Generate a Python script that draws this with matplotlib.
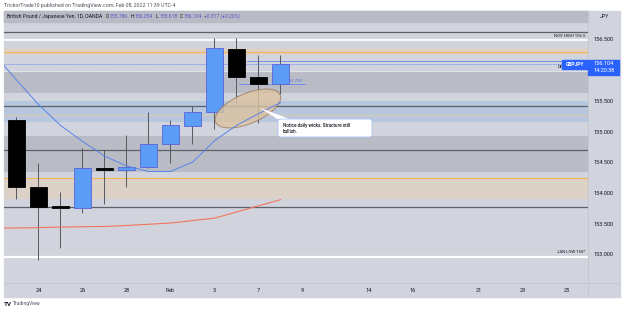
import numpy as np
import pandas as pd
import matplotlib
matplotlib.use('Agg')
import matplotlib.pyplot as plt
from matplotlib.patches import Rectangle, Polygon, FancyBboxPatch

plt.rcParams['font.family'] = ['Roboto', 'DejaVu Sans']

# daily GBPJPY candles, Jan 21 .. Feb 8 2022
candle_dates = ['2022-01-21', '2022-01-24', '2022-01-25', '2022-01-26', '2022-01-27',
                '2022-01-28', '2022-01-31', '2022-02-01', '2022-02-02', '2022-02-03',
                '2022-02-04', '2022-02-07', '2022-02-08']
opens = [155.20, 154.10, 153.79, 153.77, 154.42, 154.38, 154.44, 154.80, 155.10, 155.33, 156.36, 155.90, 155.786]
highs = [155.24, 154.49, 154.03, 154.74, 154.71, 154.96, 155.33, 155.20, 155.43, 156.53, 156.53, 156.25, 156.254]
lows = [153.91, 152.92, 153.12, 153.68, 153.83, 154.10, 154.41, 154.50, 154.81, 155.05, 155.47, 155.15, 155.618]
closes = [154.10, 153.78, 153.77, 154.42, 154.38, 154.44, 154.80, 155.11, 155.33, 156.37, 155.90, 155.786, 156.104]

# moving averages (first value is Jan 20, off the left edge)
ma_dates = ['2022-01-20'] + candle_dates
ma_fast = [156.26, 155.85, 155.45, 155.11, 154.85, 154.61, 154.45, 154.36, 154.36, 154.51, 154.86, 155.11, 155.30, 155.48]
ma_slow = [153.435, 153.44, 153.445, 153.455, 153.46, 153.465, 153.48, 153.50, 153.52, 153.56, 153.60, 153.70, 153.80, 153.90]

# horizontal levels
dark_levels = [156.63, 155.43, 154.715, 153.775]
orange_levels = [156.31, 154.25]
gray_zones = [(155.645, 156.0), (154.35, 154.93)]
blue_zones = [(155.16, 155.51)]
tan_zones = [(153.91, 154.25), (156.26, 156.37)]
tan_line = 155.28
nov_high = 156.5
jan_low = 152.97
last_price = 156.104
price_line_a = 156.166
price_line_b = 155.79

price_ticks = [156.5, 155.5, 155.0, 154.5, 154.0, 153.5, 153.0]
tick_dates = ['2022-01-24', '2022-01-26', '2022-01-28', '2022-02-01', '2022-02-03', '2022-02-07',
              '2022-02-09', '2022-02-14', '2022-02-16', '2022-02-21', '2022-02-23', '2022-02-25']
tick_labels = ['24', '26', '28', 'Feb', '3', '7', '9', '14', '16', '21', '23', '25']

bdays = pd.bdate_range('2022-01-20', '2022-03-04')
pos = {d.strftime('%Y-%m-%d'): i - 1 for i, d in enumerate(bdays)}

W, H = 625, 312
fig = plt.figure(figsize=(6.25, 3.12), dpi=100)
fig.patch.set_facecolor('white')

def fx(x):
    return x / W

def fy(y):
    return 1 - y / H

# frame, header bar, separators
fig.patches.append(Rectangle((fx(4), fy(297)), 616 / W, 286 / H, transform=fig.transFigure,
                             color='#d1d4dc', zorder=-1))
fig.patches.append(Rectangle((fx(4), fy(22)), 584 / W, 11 / H, transform=fig.transFigure,
                             color='#b8bbc3', zorder=5))
fig.lines.append(plt.Line2D([fx(588), fx(588)], [fy(11), fy(297)], transform=fig.transFigure,
                            color='#c4c7cf', lw=0.6, zorder=6))
fig.lines.append(plt.Line2D([fx(4), fx(620)], [fy(283), fy(283)], transform=fig.transFigure,
                            color='#c4c7cf', lw=0.6, zorder=6))

ax = fig.add_axes([fx(4), fy(283), 584 / W, 261 / H])
ax.set_facecolor('#d1d4dc')
for s in ax.spines.values():
    s.set_visible(False)
ax.set_xticks([])
ax.set_yticks([])
ax.set_xlim(-0.568, 25.98)
ax.set_ylim(152.544, 156.793)

x0, x1 = ax.get_xlim()
y0, y1 = ax.get_ylim()
bar_px = 584 / (x1 - x0)
price_px = 261 / (y1 - y0)

# zones and lines
for lo, hi in gray_zones:
    ax.axhspan(lo, hi, color='#b9bcc5', lw=0, zorder=0.5)
for lo, hi in blue_zones:
    ax.axhspan(lo, hi, color='#b7c7de', lw=0, zorder=0.5)
for lo, hi in tan_zones:
    ax.axhspan(lo, hi, color='#dcd1c6', lw=0, zorder=0.5)
ax.axhline(156.0, color='#dfe1e6', lw=0.8, zorder=0.8)
ax.axhline(tan_line, color='#d8c9b6', lw=0.9, zorder=0.8)
for p in dark_levels:
    ax.axhline(p, color='#5d6069', lw=0.9, zorder=1)
for p in orange_levels:
    ax.axhline(p, color='#f5b553', lw=0.8, zorder=1)
ax.axhline(nov_high, color='white', lw=1.3, zorder=1)
ax.axhline(jan_low, color='white', lw=1.6, zorder=1)
ax.axhline(last_price, color='#5a7df5', lw=0.6, ls=(0, (1, 1)), zorder=1)
ax.plot([10.5, x1], [price_line_a, price_line_a], color='#6a86f0', lw=0.6, zorder=1)
ax.plot([10.1, 13.1], [price_line_b, price_line_b], color='#6a86f0', lw=0.6, zorder=1)
ax.text(13.0, price_line_b + 0.005, '155.750', color='#4d6ff0', fontsize=3.2, ha='right', va='bottom',
        zorder=1.5)

ax.text(x1 - 0.12, nov_high + 0.04, 'NOV HIGH 156.5', fontsize=3.1, color='#131722', ha='right', va='bottom')
ax.text(x1 - 0.12, jan_low + 0.04, 'JAN LOW 153*', fontsize=3.1, color='#131722', ha='right', va='bottom')
ax.text(24.6, last_price - 0.01, 'DE', fontsize=3.1, color='#131722', ha='left', va='top', zorder=1)

# candles
xi = np.array([pos[d] for d in candle_dates])
o = np.array(opens)
c = np.array(closes)
up = c >= o
ax.vlines(xi, lows, highs, color='#55585f', lw=0.7, zorder=2)
ax.bar(xi[up], (c - o)[up], bottom=o[up], width=0.8, color='#5b9cf6', edgecolor='#5d63d6',
       lw=0.6, zorder=2.5)
ax.bar(xi[~up], (c - o)[~up], bottom=o[~up], width=0.8, color='black', edgecolor='black',
       lw=0.6, zorder=2.5)

# ellipse marking the wicks
t = np.linspace(0, 2 * np.pi, 200)
a, b, th = 35, 15, np.radians(23)
ex = a * np.cos(t) * np.cos(th) - b * np.sin(t) * np.sin(th)
ey = a * np.cos(t) * np.sin(th) + b * np.sin(t) * np.cos(th)
ell = np.column_stack([10.52 + ex / bar_px, 155.385 + ey / price_px])
ax.add_patch(Polygon(ell, closed=True, facecolor='#dcc3a0', edgecolor='#9a7a5c', lw=0.7,
                     alpha=0.8, zorder=3))

# moving averages
mx = [pos[d] for d in ma_dates]
ax.plot(mx, ma_fast, color='#5a83ea', lw=0.7, zorder=4)
ax.plot(mx, ma_slow, color='#f0775a', lw=0.8, zorder=4)

# price axis labels
for p in price_ticks:
    ax.text((593 - 4) / 584, p, f'{p:.3f}', transform=ax.get_yaxis_transform(), fontsize=4,
            color='#131722', ha='left', va='center', clip_on=False)
for d, lab in zip(tick_dates, tick_labels):
    ax.text(pos[d], -(290 - 283) / 261, lab, transform=ax.get_xaxis_transform(), fontsize=4,
            color='#131722', ha='center', va='center', clip_on=False)

# last price tags
fig.patches.append(Rectangle((fx(562), fy(68.5)), 26 / W, 8.5 / H, transform=fig.transFigure,
                             color='#2962ff', zorder=7))
fig.text(fx(575), fy(64.3), 'GBPJPY', fontsize=3.5, color='white', ha='center', va='center',
         weight='bold', zorder=8)
fig.patches.append(Rectangle((fx(588), fy(75)), 31 / W, 15 / H, transform=fig.transFigure,
                             color='#2962ff', zorder=7))
fig.text(fx(593), fy(64), '156.104', fontsize=4, color='white', ha='left', va='center', zorder=8)
fig.text(fx(593), fy(71), '14:20:38', fontsize=4, color='white', ha='left', va='center', zorder=8)

# callout
fig.patches.append(Polygon([[fx(260), fy(108)], [fx(279), fy(120)], [fx(291), fy(119.5)]],
                           closed=True, transform=fig.transFigure, facecolor='white',
                           edgecolor='none', zorder=7))
fig.patches.append(FancyBboxPatch((fx(278), fy(137)), 94 / W, 18 / H, transform=fig.transFigure,
                                  boxstyle='round,pad=0,rounding_size=0.005', facecolor='white',
                                  edgecolor='#a9c3f5', lw=0.6, zorder=7))
fig.text(fx(283), fy(125), 'Notice daily wicks. Structure still', fontsize=3.3, color='#131722',
         ha='left', va='center', weight='medium', zorder=8)
fig.text(fx(283), fy(131), 'bullish.', fontsize=3.3, color='#131722', ha='left', va='center',
         weight='medium', zorder=8)

# header texts
fig.text(fx(4), fy(6), 'TrickorTrade10 published on TradingView.com, Feb 08, 2022 11:39 UTC-4',
         fontsize=3.75, color='#50535e', ha='left', va='center')
fig.text(fx(7), fy(16.5), 'British Pound / Japanese Yen, 1D, OANDA', fontsize=3.7, color='#131722',
         ha='left', va='center', zorder=8)
vals = [('O', '155.786', 106), ('H', '156.254', 131), ('L', '155.618', 156), ('C', '156.104', 180)]
for k, v, xp in vals:
    fig.text(fx(xp), fy(16.5), k, fontsize=3.6, color='#131722', ha='left', va='center', zorder=8)
    fig.text(fx(xp + 3.2), fy(16.5), v, fontsize=3.6, color='#5b50d0', ha='left', va='center', zorder=8)
fig.text(fx(204), fy(16.5), '+0.317 (+0.20%)', fontsize=3.6, color='#5b50d0', ha='left', va='center',
         zorder=8)
fig.text(fx(604), fy(17), 'JPY', fontsize=3.8, color='#131722', ha='center', va='center', zorder=8)

fig.text(fx(4), fy(304), 'TV', fontsize=4.5, color='#131722', weight='bold', ha='left', va='center')
fig.text(fx(13), fy(304), 'TradingView', fontsize=3.6, color='#50535e', ha='left', va='center')

fig.savefig('out.png', dpi=100)
